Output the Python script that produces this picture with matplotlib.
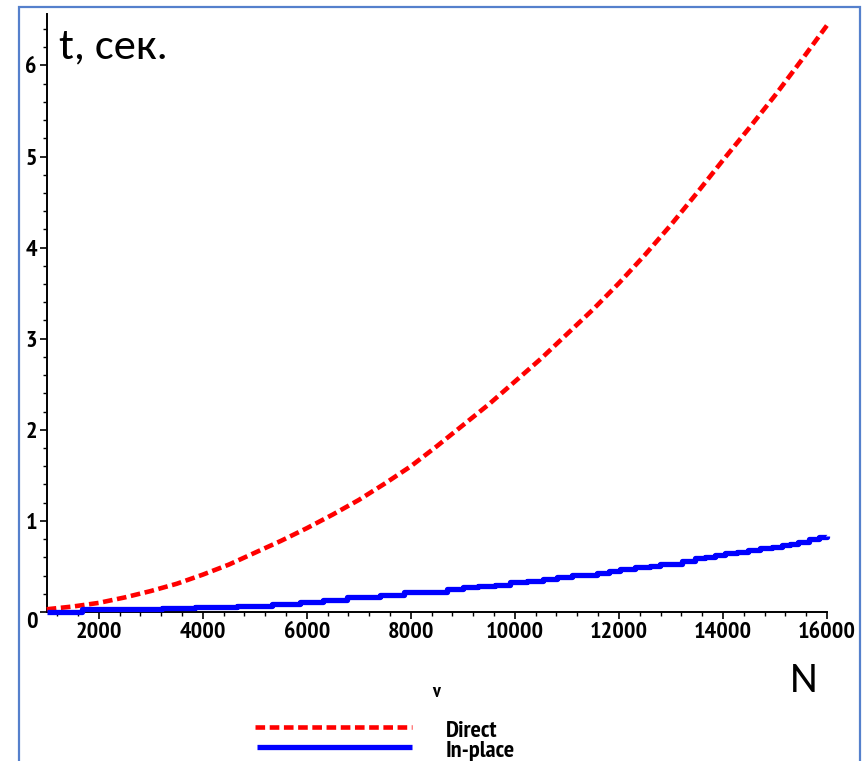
import matplotlib
matplotlib.use("Agg")
import matplotlib.pyplot as plt
from matplotlib import font_manager
from matplotlib.lines import Line2D
from matplotlib.patches import Rectangle
from matplotlib.ticker import MultipleLocator, FixedLocator

# ---------------- data ----------------
direct_n = [1000, 1500, 2000, 2500, 3000, 3500, 4000, 4500, 5000, 5500,
            6000, 6500, 7000, 7500, 8000, 8500, 9000, 9500, 10000, 10500,
            11000, 11500, 12000, 12500, 13000, 13500, 14000, 14500, 15000, 15500,
            16000]
direct_t = [0.03, 0.06, 0.10, 0.16, 0.23, 0.31, 0.41, 0.52, 0.65, 0.78,
            0.92, 1.07, 1.23, 1.41, 1.60, 1.82, 2.05, 2.28, 2.53, 2.78,
            3.05, 3.32, 3.61, 3.92, 4.25, 4.60, 4.96, 5.31, 5.67, 6.05,
            6.44]

inplace_n = [1000, 1670, 3210, 3850, 4650, 5330, 5870, 6320, 6770, 7190,
             7410, 7860, 8690, 9010, 9300, 9620, 9910, 10230, 10550, 10810,
             11100, 11580, 11800, 12030, 12310, 12600, 12790, 13210, 13470, 13660,
             13850, 14040, 14270, 14490, 14720, 14940, 15140, 15290, 15450, 15650,
             15840, 16000]
inplace_t = [0.00, 0.03, 0.045, 0.06, 0.07, 0.09, 0.11, 0.13, 0.16, 0.17,
             0.19, 0.22, 0.25, 0.27, 0.28, 0.30, 0.33, 0.34, 0.36, 0.38,
             0.41, 0.43, 0.45, 0.47, 0.49, 0.51, 0.53, 0.56, 0.59, 0.60,
             0.63, 0.65, 0.66, 0.68, 0.70, 0.71, 0.74, 0.75, 0.77, 0.80,
             0.82, 0.83]

x_ticks = [2000, 4000, 6000, 8000, 10000, 12000, 14000, 16000]
x_tick_labels = ["2000", "4000", "6000", "8000", "10000", "12000", "14000", "16000"]
y_ticks = [0, 1, 2, 3, 4, 5, 6]
y_tick_labels = ["", "1", "2", "3", "4", "5", "6"]
zero_label = "0"
series_labels = ["Direct", "In-place"]
y_title = "t, сек."
x_title = "N"
stray_label = "v"

# ---------------- fonts ----------------
names = {f.name for f in font_manager.fontManager.ttflist}


def pick(*cands):
    for c in cands:
        if c in names:
            return c
    return "DejaVu Sans"


narrow = pick("Liberation Sans Narrow", "PT Sans Narrow", "Archivo Narrow", "Roboto Condensed")
calib = pick("Carlito", "Open Sans")
calib_list = [calib, "DejaVu Sans"]

W, H = 866, 761
fig = plt.figure(figsize=(W / 100, H / 100), dpi=100)
fig.patch.set_facecolor("white")


def fx(px):
    return px / W


def fy(py):
    return (H - py) / H


ax_l, ax_r, ax_t, ax_b = 46.7, 827, 13.5, 612
ax = fig.add_axes([fx(ax_l), fy(ax_b), fx(ax_r) - fx(ax_l), fy(ax_t) - fy(ax_b)])
ax.set_facecolor("white")

red_style = dict(color="#ff0000", lw=3.3, linestyle=(0, (2.1, 1.0)))
blue_style = dict(color="#0000ff", lw=3.8, solid_capstyle="butt")

ax.plot(direct_n, direct_t, clip_on=False, zorder=3, **red_style)
ax.plot(inplace_n, inplace_t, drawstyle="steps-post", clip_on=False, zorder=4, **blue_style)

ax.set_xlim(1000, 16000)
ax.set_ylim(0, 6.57)

for s in ["top", "right"]:
    ax.spines[s].set_visible(False)
for s in ["left", "bottom"]:
    ax.spines[s].set_linewidth(1.4)
    ax.spines[s].set_color("black")

ax.xaxis.set_major_locator(FixedLocator(x_ticks))
ax.set_xticklabels(x_tick_labels)
ax.xaxis.set_minor_locator(MultipleLocator(400))
ax.yaxis.set_major_locator(FixedLocator(y_ticks))
ax.set_yticklabels(y_tick_labels)
ax.yaxis.set_minor_locator(MultipleLocator(0.2))

ax.tick_params(which="major", direction="out", length=5, width=1.2, color="black")
ax.tick_params(which="minor", direction="out", length=3, width=1.0, color="black")
ax.tick_params(axis="x", which="major", pad=2.0)
ax.tick_params(axis="y", which="major", pad=2.0)
for lab in ax.get_xticklabels() + ax.get_yticklabels():
    lab.set_fontfamily(narrow)
    lab.set_fontweight("bold")
    lab.set_fontsize(17.5)

ax.annotate(zero_label, xy=(1000, 0), xytext=(-14.5, -11), textcoords="offset pixels",
            ha="center", va="center", fontfamily=narrow, fontweight="bold", fontsize=17.5,
            annotation_clip=False)

# titles
fig.text(fx(59), fy(58), y_title, family=calib_list, fontsize=32, ha="left", va="baseline")
fig.text(fx(804), fy(692), x_title, family=calib_list, fontsize=31, ha="center", va="baseline")
fig.text(fx(436), fy(697), stray_label, fontfamily=narrow, fontweight="bold", fontsize=14,
         ha="center", va="baseline")

# legend (manual)
fig.add_artist(Line2D([fx(255), fx(412)], [fy(727), fy(727)], transform=fig.transFigure, **red_style))
fig.add_artist(Line2D([fx(257), fx(412)], [fy(747), fy(747)], transform=fig.transFigure, **blue_style))
fig.text(fx(446), fy(737), series_labels[0], fontfamily=narrow, fontweight="bold", fontsize=17.5,
         ha="left", va="baseline")
fig.text(fx(446), fy(757), series_labels[1], fontfamily=narrow, fontweight="bold", fontsize=17.5,
         ha="left", va="baseline")

# outer frame
fig.add_artist(Rectangle((fx(19), fy(800)), fx(860) - fx(19), fy(7) - fy(800),
                         transform=fig.transFigure, fill=False, edgecolor="#5580cc",
                         linewidth=1.6, clip_on=False))

fig.savefig("out.png", dpi=100, facecolor="white")
